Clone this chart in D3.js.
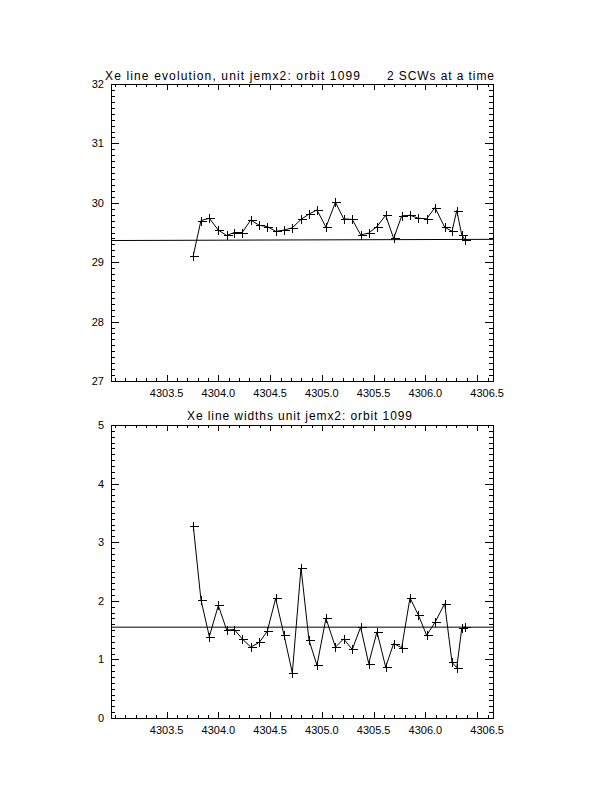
<!DOCTYPE html>
<html><head><meta charset="utf-8">
<script src="https://cdn.jsdelivr.net/npm/d3@7"></script>
<style>body{margin:0;background:#fff}svg{display:block}text{font-family:"Liberation Sans","DejaVu Sans",sans-serif;fill:#000}</style>
</head><body><svg id="c" width="612" height="792"></svg>
<script>
const times = [4303.757,4303.831,4303.912,4303.999,4304.080,4304.153,4304.230,4304.312,4304.395,4304.472,
4304.553,4304.633,4304.714,4304.798,4304.875,4304.952,4305.039,4305.131,4305.210,4305.293,
4305.374,4305.452,4305.532,4305.616,4305.693,4305.771,4305.851,4305.931,4306.012,4306.092,
4306.186,4306.257,4306.303,4306.351,4306.380];
const energies = [29.11,29.70,29.74,29.54,29.45,29.50,29.50,29.71,29.62,29.60,
29.52,29.54,29.58,29.72,29.81,29.88,29.59,30.01,29.73,29.72,
29.46,29.49,29.60,29.79,29.40,29.78,29.79,29.74,29.73,29.92,
29.59,29.52,29.87,29.46,29.38];
const widths = [3.28,2.02,1.39,1.92,1.50,1.51,1.35,1.21,1.29,1.48,
2.04,1.42,0.77,2.56,1.33,0.90,1.70,1.21,1.35,1.17,
1.55,0.93,1.47,0.87,1.27,1.20,2.05,1.76,1.41,1.63,
1.95,0.95,0.86,1.53,1.56];
const energyFit = [29.365, 29.385];
const widthFit = [1.55, 1.55];
const xDomain = [4302.962, 4306.653];
const xTickLabels = ["4303.5","4304.0","4304.5","4305.0","4305.5","4306.0","4306.5"];
const energyTicks = ["27","28","29","30","31","32"];
const widthTicks = ["0","1","2","3","4","5"];
const titles = ["Xe line evolution, unit jemx2: orbit 1099", "Xe line widths unit jemx2: orbit 1099"];
const subTitle = "2 SCWs at a time";

const svg = d3.select("#c");

function panel(top, bottom, yDomain, yTickLabels, yvals, fit) {
  const L = 111, R = 493;
  const x = d3.scaleLinear().domain(xDomain).range([L, R]);
  const y = d3.scaleLinear().domain(yDomain).range([bottom, top]);
  const g = svg.append("g");
  g.append("rect").attr("x", L + 0.5).attr("y", top + 0.5).attr("width", R - L).attr("height", bottom - top)
    .attr("fill", "none").attr("stroke", "#000").attr("stroke-width", 1);
  const majX = xTickLabels.map(Number);
  const minX = d3.range(Math.ceil(xDomain[0]*10), Math.floor(xDomain[1]*10)+1).map(v => v/10);
  const tk = g.append("g").attr("stroke", "#000").attr("shape-rendering", "crispEdges");
  minX.forEach(v => {
    const isMaj = majX.some(m => Math.abs(m - v) < 1e-6);
    const len = isMaj ? 6 : 3;
    const px = Math.round(x(v)) + 0.5;
    tk.append("line").attr("x1", px).attr("x2", px).attr("y1", bottom).attr("y2", bottom - len);
    tk.append("line").attr("x1", px).attr("x2", px).attr("y1", top).attr("y2", top + len);
  });
  majX.forEach((v, i) => {
    // the last label sits past its tick in the reference
    const shift = (i === majX.length - 1) ? 10 : 0;
    g.append("text").attr("x", x(v) + shift).attr("y", bottom + 16).attr("text-anchor", "middle")
      .attr("font-size", 11).text(xTickLabels[i]);
  });
  const minY = d3.range(Math.round(yDomain[0]*10), Math.round(yDomain[1]*10)+1).map(v => v/10);
  minY.forEach(v => {
    const isMaj = Math.abs(v - Math.round(v)) < 1e-6;
    const len = isMaj ? 8 : 4;
    const py = Math.round(y(v)) + 0.5;
    tk.append("line").attr("x1", L).attr("x2", L + len).attr("y1", py).attr("y2", py);
    tk.append("line").attr("x1", R).attr("x2", R - len).attr("y1", py).attr("y2", py);
  });
  yTickLabels.forEach(t => {
    g.append("text").attr("x", 104).attr("y", y(+t) + 4).attr("text-anchor", "end")
      .attr("font-size", 11).text(t);
  });
  g.append("line").attr("x1", x(xDomain[0])).attr("x2", x(xDomain[1]))
    .attr("y1", y(fit[0])).attr("y2", y(fit[1])).attr("stroke", "#000").attr("stroke-width", 1);
  const pts = times.map((t, i) => [x(t), y(yvals[i])]);
  g.append("path").attr("d", d3.line()(pts)).attr("fill", "none").attr("stroke", "#000").attr("stroke-width", 1);
  const pm = g.append("g").attr("stroke", "#000").attr("stroke-width", 1).attr("shape-rendering", "crispEdges");
  pts.forEach(([px, py]) => {
    const cx = Math.round(px) + 0.5, cy = Math.round(py) + 0.5;
    pm.append("line").attr("x1", cx - 4).attr("x2", cx + 5).attr("y1", cy).attr("y2", cy);
    pm.append("line").attr("x1", cx).attr("x2", cx).attr("y1", cy - 5).attr("y2", cy + 4);
  });
  return g;
}

panel(84, 381, [27, 32], energyTicks, energies, energyFit);
panel(425, 718, [0, 5], widthTicks, widths, widthFit);

svg.append("text").attr("x", 105).attr("y", 80).attr("font-size", 12)
  .attr("textLength", 255).attr("lengthAdjust", "spacing").text(titles[0]);
svg.append("text").attr("x", 387).attr("y", 80).attr("font-size", 12)
  .attr("textLength", 107).attr("lengthAdjust", "spacing").text(subTitle);
svg.append("text").attr("x", 187).attr("y", 420).attr("font-size", 12)
  .attr("textLength", 225).attr("lengthAdjust", "spacing").text(titles[1]);
</script></body></html>
